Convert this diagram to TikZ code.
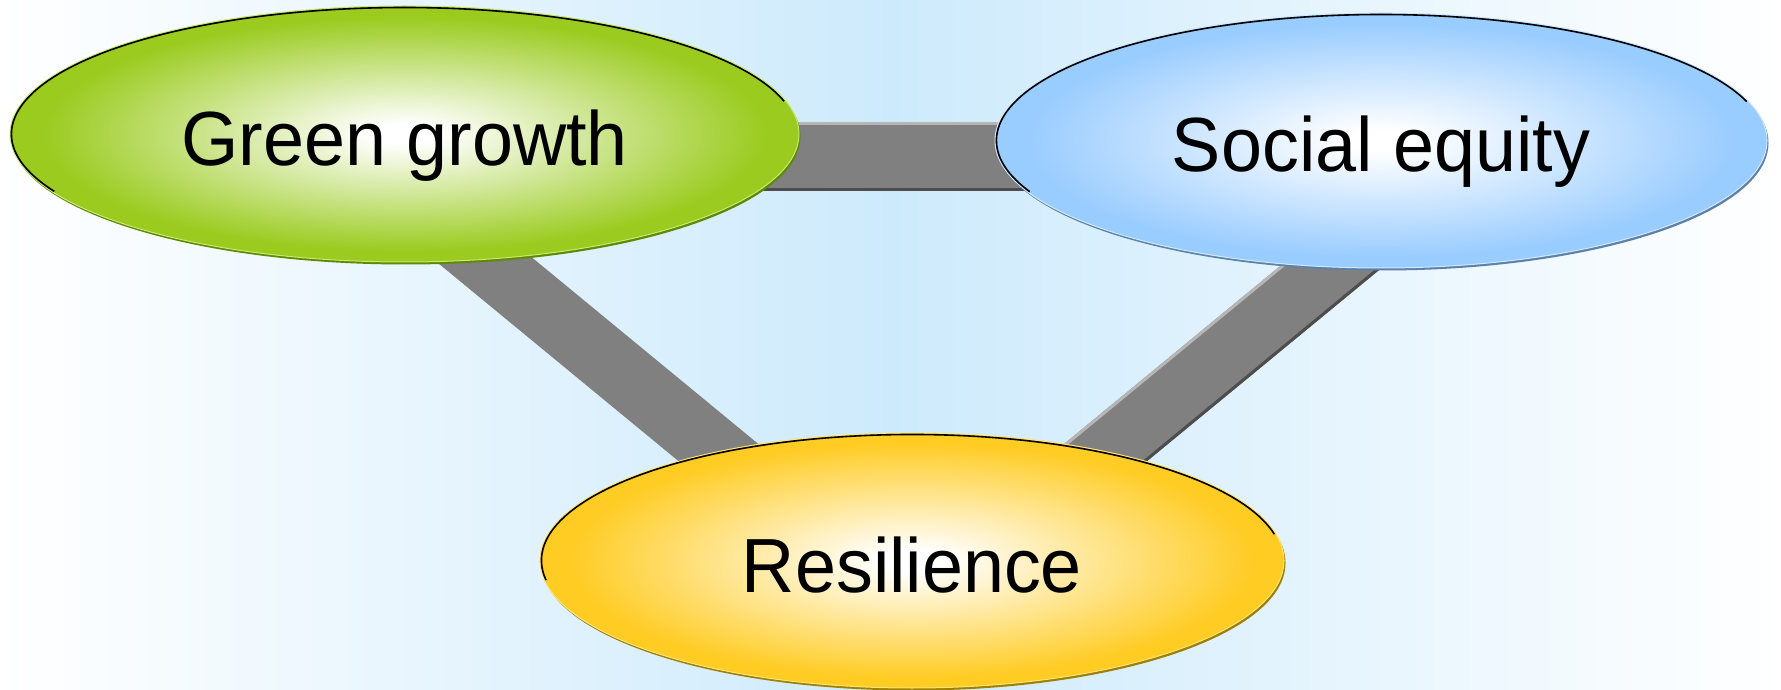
\documentclass[tikz,border=0pt]{standalone}
\usepackage{fontspec}
\newfontfamily\lblfont[FakeStretch=0.96]{Liberation Sans}
\usetikzlibrary{shapes.geometric,calc,shadows}

\definecolor{bgblue}{RGB}{205,234,252}
\definecolor{barfill}{RGB}{128,128,128}
\definecolor{barlight}{RGB}{182,182,182}
\definecolor{bardark}{RGB}{77,77,77}
\definecolor{ggcol}{RGB}{154,203,30}
\definecolor{ggdark}{RGB}{94,138,0}
\definecolor{gglight}{RGB}{200,232,120}
\definecolor{secol}{RGB}{153,204,255}
\definecolor{sedark}{RGB}{90,130,170}
\definecolor{selight}{RGB}{210,232,255}
\definecolor{rscol}{RGB}{255,204,36}
\definecolor{rsdark}{RGB}{160,128,0}
\definecolor{rslight}{RGB}{255,228,120}

% radial glow: white core fading to the bubble colour
% (the 25bp circle meets the edge of the bubble)
\colorlet{ecol}{ggcol}
\pgfdeclareradialshading[ecol]{eglow}{\pgfpoint{0bp}{0bp}}%
  {color(0bp)=(white); color(2bp)=(white); color(23bp)=(ecol); color(50bp)=(ecol)}

\pgfdeclarelayer{backdrop}
\pgfdeclarelayer{links}
\pgfsetlayers{backdrop,links,main}

\tikzset{
  bubble/.style={ellipse, inner sep=0pt, outer sep=0pt,
    /utils/exec={\colorlet{ecol}{#1col}},
    shading=eglow, draw=#1light, line width=1pt,
    general shadow={fill=#1dark, shadow xshift=1.5pt, shadow yshift=-2.5pt},
    text=black, text height=63pt, text depth=0pt,
    font=\lblfont\fontsize{76.8}{80}\selectfont},
  rim/.style={draw=black, line width=1.6pt},
  bar/.style={draw=barfill, line cap=butt},
  barhi/.style={draw=barlight, line width=3pt},
  barlo/.style={draw=bardark, line width=3pt},
}

\begin{document}
\begin{tikzpicture}[x=1pt, y=1pt]
  \useasboundingbox (0,0) rectangle (1781,689);

  \begin{pgfonlayer}{backdrop}
    \fill[left color=white, right color=white, middle color=bgblue]
      (0,0) rectangle (1781,689);
  \end{pgfonlayer}

  % the three bubbles
  \node[bubble=gg, minimum width=789pt, minimum height=256pt] (gg) at (404.5,555) {Green growth};
  \node[bubble=se, minimum width=772pt, minimum height=255pt] (se) at (1381,548.5) {Social equity};
  \node[bubble=rs, minimum width=744pt, minimum height=255pt] (rs) at (912,128.5) {Resilience};

  % dark rim along the upper edge of each bubble
  \draw[rim] ($(gg.center)+(207:393 and 126.5)$) arc[start angle=207, end angle=15, x radius=393, y radius=126.5];
  \draw[rim] ($(se.center)+(204:384.5 and 126)$) arc[start angle=204, end angle=18, x radius=384.5, y radius=126];
  \draw[rim] ($(rs.center)+(189:370.5 and 126)$) arc[start angle=189, end angle=12, x radius=370.5, y radius=126];

  % corners of the connecting triangle, hidden inside the bubbles
  \coordinate (pG) at ($(gg.center)+(-45.5,-22.5)$);
  \coordinate (pS) at ($(se.center)+(84,-16)$);
  \coordinate (pR) at ($(rs.center)+(0,-51.5)$);

  \begin{pgfonlayer}{links}
    \draw[bar, line width=64pt] (pG) -- (pR);
    \draw[bar, line width=69pt] (pG) -- (pS);
    \draw[barhi] ($(pG)!33pt!90:(pS)$) -- ($(pS)!33pt!-90:(pG)$);
    \draw[barlo] ($(pG)!33pt!-90:(pS)$) -- ($(pS)!33pt!90:(pG)$);
    \draw[bar, line width=66pt] (pR) -- (pS);
    \draw[barhi] ($(pR)!31.5pt!90:(pS)$) -- ($(pS)!31.5pt!-90:(pR)$);
    \draw[barlo] ($(pR)!31.5pt!-90:(pS)$) -- ($(pS)!31.5pt!90:(pR)$);
  \end{pgfonlayer}
\end{tikzpicture}
\end{document}
